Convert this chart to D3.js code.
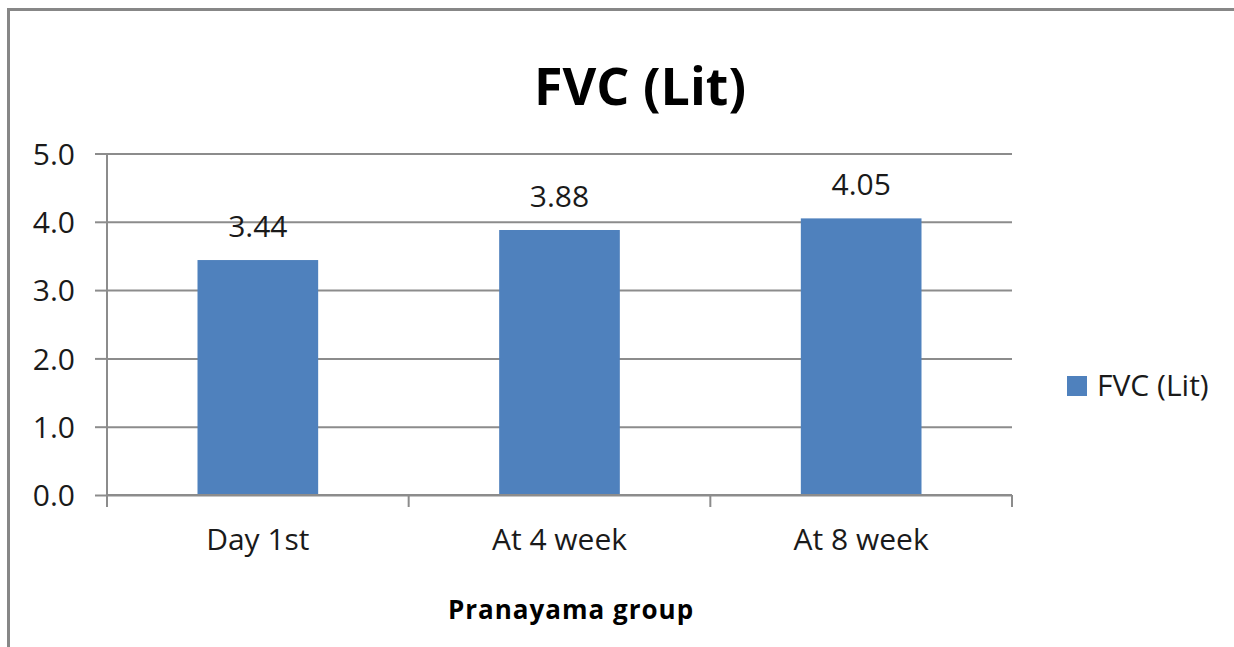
<!DOCTYPE html>
<html lang="en">
<head>
<meta charset="UTF-8">
<title>FVC (Lit)</title>
<script src="https://d3js.org/d3.v7.min.js"></script>
<style>
  body { margin: 0; background: #fff; font-family: 'Open Sans', sans-serif; }
  svg { display: block; }
</style>
</head>
<body>
<div id="chart"></div>
<script>
// data
const categories = ["Day 1st", "At 4 week", "At 8 week"];
const fvcValues = [3.44, 3.88, 4.05];
const valueLabels = ["3.44", "3.88", "4.05"];
const yTicks = [0, 1, 2, 3, 4, 5];
const seriesName = "FVC (Lit)";
const chartTitle = "FVC (Lit)";
const xTitle = "Pranayama group";

const W = 1234, H = 647;
const plot = {left: 107, right: 1012, top: 153.5, bottom: 495};
const barColor = "#4f81bd";
const gridColor = "#8c8c8c";
const labelSize = "30px";

const svg = d3.select("#chart").append("svg")
  .attr("width", W).attr("height", H);

// outer chart border (only top and left are in view)
svg.append("rect")
  .attr("x", 8.5).attr("y", 9.5)
  .attr("width", W + 20).attr("height", H + 20)
  .attr("fill", "none").attr("stroke", "#878787").attr("stroke-width", 3);

const x = d3.scaleBand()
  .domain(categories)
  .range([plot.left, plot.right])
  .paddingInner(0.6)
  .paddingOuter(0.3);

const y = d3.scaleLinear()
  .domain([0, 5])
  .range([plot.bottom, plot.top]);

// gridlines + y axis
const yAxis = svg.append("g")
  .attr("transform", `translate(${plot.left},0)`)
  .call(d3.axisLeft(y).tickValues(yTicks).tickFormat(d3.format(".1f"))
    .tickSize(12).tickPadding(20));
yAxis.select(".domain").remove();
yAxis.selectAll(".tick line").attr("stroke", gridColor).attr("stroke-width", 2);
yAxis.selectAll(".tick").append("line")
  .attr("x1", 0).attr("x2", plot.right - plot.left)
  .attr("stroke", gridColor).attr("stroke-width", 2);
yAxis.selectAll(".tick text")
  .attr("fill", "#1a1a1a").style("font-size", labelSize)
  .style("font-family", "'Open Sans', sans-serif").attr("dy", "0.36em");

// y axis line
svg.append("line")
  .attr("x1", plot.left).attr("x2", plot.left)
  .attr("y1", plot.top).attr("y2", plot.bottom + 12)
  .attr("stroke", gridColor).attr("stroke-width", 2);

// bars
svg.selectAll(".bar")
  .data(fvcValues)
  .enter().append("rect")
  .attr("class", "bar")
  .attr("x", (d, i) => x(categories[i]))
  .attr("width", x.bandwidth())
  .attr("y", d => y(d))
  .attr("height", d => y(0) - y(d))
  .attr("fill", barColor);

// x axis
const step = x.step();
const xBounds = d3.range(categories.length + 1).map(i => plot.left + i * step);
svg.append("line")
  .attr("x1", plot.left).attr("x2", plot.right)
  .attr("y1", plot.bottom).attr("y2", plot.bottom)
  .attr("stroke", gridColor).attr("stroke-width", 2);
svg.selectAll(".xtick")
  .data(xBounds)
  .enter().append("line")
  .attr("x1", d => d).attr("x2", d => d)
  .attr("y1", plot.bottom).attr("y2", plot.bottom + 12)
  .attr("stroke", gridColor).attr("stroke-width", 2);
svg.selectAll(".xlabel")
  .data(categories)
  .enter().append("text")
  .attr("x", d => x(d) + x.bandwidth() / 2)
  .attr("y", 550)
  .attr("text-anchor", "middle")
  .attr("fill", "#1a1a1a")
  .style("font-size", labelSize)
  .text(d => d);

// value labels
svg.selectAll(".vlabel")
  .data(fvcValues)
  .enter().append("text")
  .attr("x", (d, i) => x(categories[i]) + x.bandwidth() / 2)
  .attr("y", d => y(d) - 23)
  .attr("text-anchor", "middle")
  .attr("fill", "#1a1a1a")
  .style("font-size", labelSize)
  .text((d, i) => valueLabels[i]);

// title
svg.append("text")
  .attr("x", 640).attr("y", 105)
  .attr("text-anchor", "middle")
  .style("font-size", "52px").style("font-weight", "bold")
  .attr("fill", "#000")
  .text(chartTitle);

// x axis title
svg.append("text")
  .attr("x", 571).attr("y", 619)
  .attr("text-anchor", "middle")
  .style("font-size", "26px").style("font-weight", "bold")
  .style("letter-spacing", "1px")
  .attr("fill", "#000")
  .text(xTitle);

// legend
const legend = svg.append("g").attr("transform", "translate(1067,376)");
legend.append("rect")
  .attr("width", 20).attr("height", 20)
  .attr("fill", barColor);
legend.append("text")
  .attr("x", 30).attr("y", 20)
  .attr("fill", "#1a1a1a")
  .style("font-size", labelSize)
  .text(seriesName);
</script>
</body>
</html>
